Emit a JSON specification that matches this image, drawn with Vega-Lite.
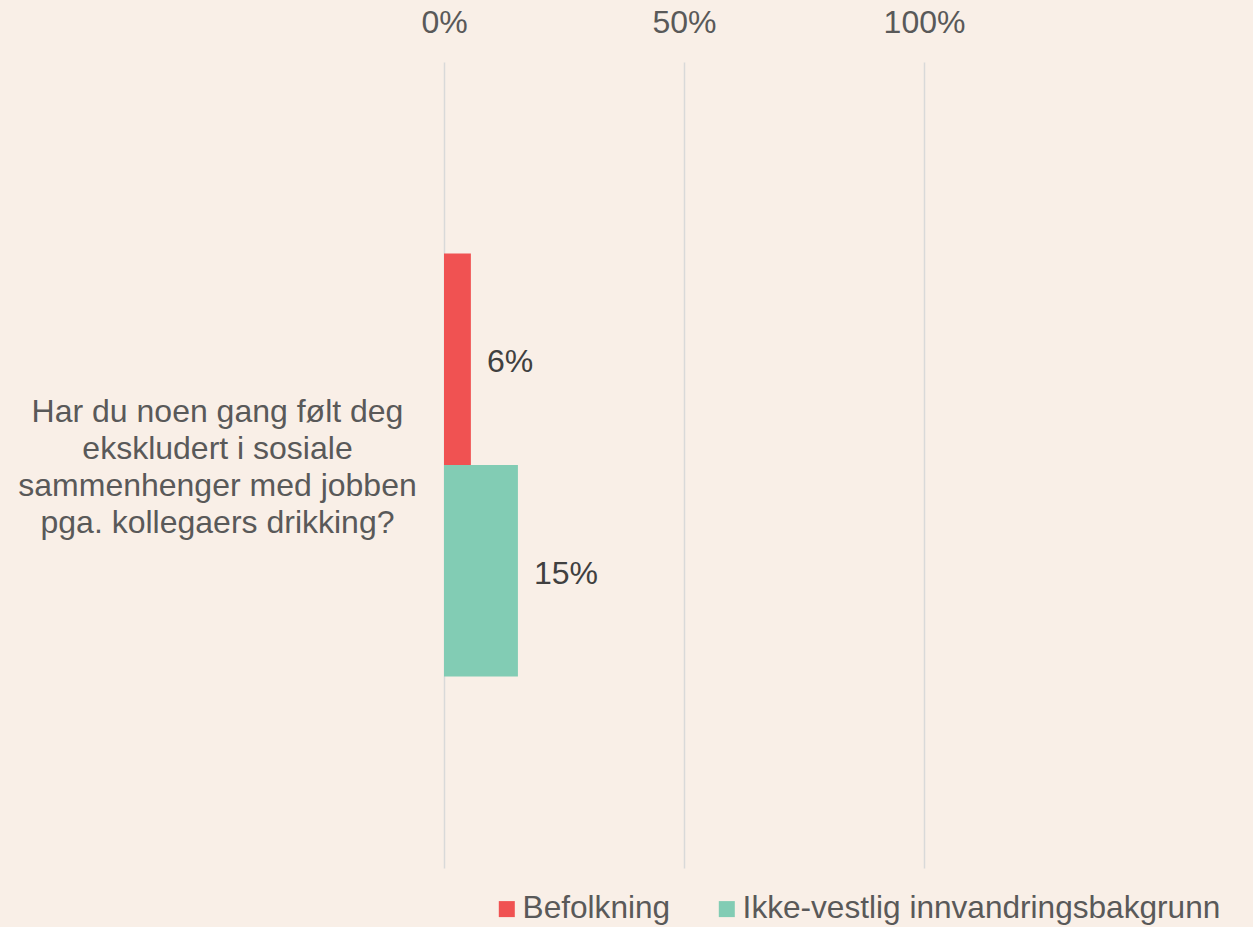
{
  "$schema": "https://vega.github.io/schema/vega-lite/v6.json",
  "width": 480,
  "height": 806,
  "autosize": {"type": "none"},
  "padding": {"left": 444, "top": 62, "right": 329, "bottom": 59},
  "background": "#f9efe7",
  "config": {
    "view": {"stroke": null},
    "font": "Liberation Sans"
  },
  "data": {
    "values": [
      {"question": "Har du noen gang følt deg ekskludert i sosiale sammenhenger med jobben pga. kollegaers drikking?", "group": "Befolkning", "value": 0.056},
      {"question": "Har du noen gang følt deg ekskludert i sosiale sammenhenger med jobben pga. kollegaers drikking?", "group": "Ikke-vestlig innvandringsbakgrunn", "value": 0.154}
    ]
  },
  "encoding": {
    "y": {
      "field": "question",
      "type": "nominal",
      "scale": {"paddingOuter": 0.4527, "paddingInner": 0},
      "axis": {
        "title": null,
        "domain": false,
        "ticks": false,
        "tickSize": 0,
        "labelAlign": "center",
        "labelBaseline": "middle",
        "labelPadding": 227,
        "labelOffset": -53,
        "labelFontSize": 32,
        "labelLineHeight": 37,
        "labelColor": "#595959",
        "labelLimit": 600,
        "labelExpr": "['Har du noen gang følt deg','ekskludert i sosiale','sammenhenger med jobben','pga. kollegaers drikking?']"
      }
    },
    "yOffset": {
      "field": "group",
      "type": "nominal",
      "sort": ["Befolkning", "Ikke-vestlig innvandringsbakgrunn"],
      "scale": {"paddingInner": 0, "paddingOuter": 0}
    },
    "x": {
      "field": "value",
      "type": "quantitative",
      "scale": {"domain": [0, 1], "nice": false},
      "axis": {
        "orient": "top",
        "title": null,
        "values": [0, 0.5, 1],
        "format": ".0%",
        "domain": false,
        "ticks": false,
        "tickSize": 0,
        "labelFlush": false,
        "labelPadding": 23,
        "labelFontSize": 32,
        "labelColor": "#595959",
        "grid": true,
        "gridColor": "#d9d9d9",
        "gridWidth": 1.5
      }
    }
  },
  "layer": [
    {
      "mark": {"type": "bar"},
      "encoding": {
        "color": {
          "field": "group",
          "type": "nominal",
          "scale": {"domain": ["Befolkning", "Ikke-vestlig innvandringsbakgrunn"], "range": ["#f05252", "#82ccb4"]},
          "legend": {
            "title": null,
            "orient": "none",
            "direction": "horizontal",
            "legendX": 47,
            "legendY": 831,
            "symbolType": "square",
            "symbolSize": 256,
            "symbolStrokeWidth": 0,
            "labelFontSize": 31.6,
            "labelColor": "#595959",
            "labelOffset": 0,
            "columnPadding": 40,
            "labelLimit": 800
          }
        }
      }
    },
    {
      "mark": {"type": "text", "align": "left", "baseline": "middle", "dx": 16, "dy": 3, "fontSize": 32, "color": "#404040"},
      "encoding": {
        "text": {"field": "value", "type": "quantitative", "format": ".0%"}
      }
    }
  ]
}
